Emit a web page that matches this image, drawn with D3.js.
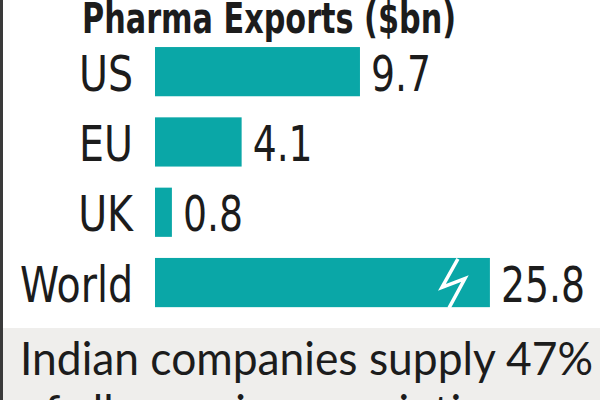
<!DOCTYPE html>
<html><head><meta charset="utf-8">
<script src="https://cdn.jsdelivr.net/npm/d3@7"></script>
<style>
html,body{margin:0;padding:0;background:#fff;}
svg{display:block;}
</style></head>
<body>
<svg id="c" width="600" height="400"></svg>
<script>
// ---- data ----
const categories = ["US", "EU", "UK", "World"];
const values = [9.7, 4.1, 0.8, 25.8];
const valueLabels = ["9.7", "4.1", "0.8", "25.8"];
const title = "Pharma Exports ($bn)";
const noteLines = ["Indian companies supply 47%", "of all generic prescriptions"];
const breakAt = 15.85; // axis value where the World bar is broken

// ---- layout ----
const svg = d3.select("#c");
const W = 600, H = 400;
const teal = "#0aa7a7", ink = "#1c1c1c";
const cond = "'DejaVu Sans Condensed','DejaVu Sans',sans-serif";

svg.append("rect").attr("width", W).attr("height", H).attr("fill", "#fff");
svg.append("rect").attr("x", 0).attr("y", 328).attr("width", W).attr("height", H - 328).attr("fill", "#efeeec");
svg.append("rect").attr("x", 0).attr("y", 0).attr("width", 3).attr("height", H).attr("fill", "#3a3a3a");

const x = d3.scaleLinear().domain([0, 10]).range([155, 366.3]);
const y = d3.scaleBand().domain(categories).range([36.5, 317.7]).paddingInner(0.3).paddingOuter(0.15);

function squeeze(sel, factor) {
  sel.each(function () {
    const w = this.getComputedTextLength() * factor;
    d3.select(this).attr("textLength", w).attr("lengthAdjust", "spacingAndGlyphs");
  });
}

// title
const t = svg.append("text").attr("x", 82).attr("y", 33)
  .attr("font-family", cond).attr("font-weight", "bold").attr("font-size", 43)
  .attr("font-stretch", "condensed").attr("fill", ink).text(title);
t.attr("textLength", 374).attr("lengthAdjust", "spacingAndGlyphs");

const data = categories.map((c, i) => ({c, v: values[i], lab: valueLabels[i]}));

// bars
svg.selectAll("rect.bar").data(data).join("rect").attr("class", "bar")
  .attr("x", x(0)).attr("y", d => y(d.c))
  .attr("width", d => x(Math.min(d.v, breakAt)) - x(0))
  .attr("height", y.bandwidth()).attr("fill", teal);

// break symbol on truncated bars
data.filter(d => d.v > breakAt).forEach(d => {
  const xe = x(breakAt), top = y(d.c), h = y.bandwidth();
  const pts = [[xe - 32, top + 1], [xe - 48, top + 0.6 * h], [xe - 25, top + 0.42 * h], [xe - 41, top + h + 1]];
  svg.append("path").attr("d", d3.line()(pts)).attr("fill", "none")
    .attr("stroke", "#fff").attr("stroke-width", 3.5).attr("stroke-linejoin", "miter");
});

// category labels
const cats = svg.selectAll("text.cat").data(data).join("text").attr("class", "cat")
  .attr("x", 133).attr("y", d => y(d.c) + y.bandwidth() / 2 + 19)
  .attr("text-anchor", "end").attr("font-family", cond).attr("font-size", 50)
  .attr("fill", ink).text(d => d.c);
const worldNode = cats.filter(d => d.c === "World").node();
squeeze(cats, 113 / worldNode.getComputedTextLength());

// value labels
const vals = svg.selectAll("text.val").data(data).join("text").attr("class", "val")
  .attr("x", d => x(Math.min(d.v, breakAt)) + 11)
  .attr("y", d => y(d.c) + y.bandwidth() / 2 + 19)
  .attr("font-family", cond).attr("font-size", 50)
  .attr("fill", ink).text(d => d.lab);
const longNode = vals.filter(d => d.c === "World").node();
squeeze(vals, 84 / longNode.getComputedTextLength());

// note
const noteFont = "Lato, 'Noto Sans', sans-serif";
const n1 = svg.append("text").attr("x", 20).attr("y", 375)
  .attr("font-family", noteFont).attr("font-size", 46)
  .attr("fill", ink).text(noteLines[0]);
const k = 573 / n1.node().getComputedTextLength();
squeeze(n1, k);
const n2 = svg.append("text").attr("x", 20).attr("y", 428)
  .attr("font-family", noteFont).attr("font-size", 46)
  .attr("fill", ink).text(noteLines[1]);
squeeze(n2, k);
</script>
</body></html>
